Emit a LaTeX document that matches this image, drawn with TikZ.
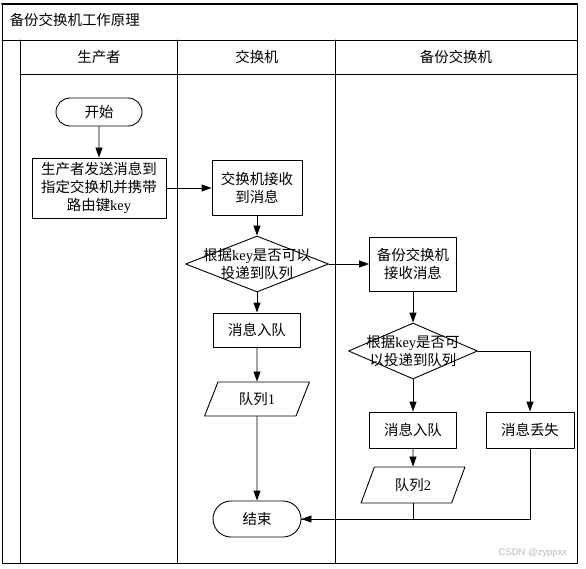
\documentclass[tikz,border=0pt]{standalone}
\usepackage{fontspec}
\setmainfont{Noto Sans CJK SC}
\newfontfamily\latfont{Liberation Serif}
\newfontfamily\wmfont{Liberation Sans}
\usetikzlibrary{shapes.geometric,shapes.misc,arrows.meta}

\begin{document}
\begin{tikzpicture}[line cap=round,line join=round,>={Triangle[length=10bp,width=7bp]},x=1bp,y=-1bp,line width=0.9bp,
  every node/.style={font=\fontsize{14.5}{18}\selectfont},
  proc/.style={draw,rectangle,align=center,inner sep=0pt},
  term/.style={draw,rounded rectangle,inner sep=0pt},
  decis/.style={draw,diamond,inner sep=0pt},
  queue/.style={draw,trapezium,trapezium left angle=65,trapezium right angle=115,trapezium stretches=true,inner sep=0pt},
  flow/.style={->}]
\useasboundingbox (0,0) rectangle (586,569);

%% frame and lanes
\draw (2,4) rectangle (577,563);
\draw [line width=2bp] (2,4) -- (577,4);
\draw (2,40) -- (577,40);
\draw (20,40) -- (20,563);
\draw (20,74) -- (577,74);
\draw (177,40) -- (177,563);
\draw (335,40) -- (335,563);
\node [anchor=west] (title) at (6,20) {备份交换机工作原理};
\node (hprod) at (99,57) {生产者};
\node (hexch) at (257,57) {交换机};
\node (hback) at (456,57) {备份交换机};

%% steps
\node [term,minimum width=86bp,minimum height=28bp] (start) at (99,112) {开始};
\node [proc,minimum width=134bp,minimum height=60bp] (send) at (99,188) {生产者发送消息到\\指定交换机并携带\\路由键{\latfont key}};
\node [proc,minimum width=90bp,minimum height=55bp] (recv) at (257,188) {交换机接收\\到消息};
\node [decis,minimum width=143bp,minimum height=56bp] (chk1) at (257,264) {};
\node [align=center] (chk1txt) at (chk1) {根据{\latfont key}是否可以\\投递到队列};
\node [proc,minimum width=87bp,minimum height=34bp] (enq1) at (257,330) {消息入队};
\node [queue,minimum width=105bp,minimum height=34bp] (que1) at (257,399) {队列{\latfont 1}};
\node [term,minimum width=88bp,minimum height=36bp] (stop) at (257,519) {结束};
\node [proc,minimum width=87bp,minimum height=54bp] (bakrecv) at (413,264) {备份交换机\\接收消息};
\node [decis,minimum width=129bp,minimum height=56bp] (chk2) at (413,351) {};
\node [align=center] (chk2txt) at (chk2) {根据{\latfont key}是否可\\以投递到队列};
\node [proc,minimum width=87bp,minimum height=36bp] (enq2) at (413,430) {消息入队};
\node [proc,minimum width=88bp,minimum height=36bp] (lost) at (530,430) {消息丢失};
\node [queue,minimum width=104bp,minimum height=36bp] (que2) at (413,485) {队列{\latfont 2}};
\node [anchor=east,text=gray!55,font=\wmfont\fontsize{9.5}{11}\selectfont] (mark) at (571,553) {CSDN @zyppxx};

%% flow
\draw [flow] (start) -- (send);
\draw [flow] (send) -- (recv);
\draw [flow] (recv) -- (chk1);
\draw [flow] (chk1) -- (bakrecv);
\draw [flow] (chk1) -- (enq1);
\draw [flow] (enq1) -- (que1);
\draw [flow] (que1) -- (stop);
\draw [flow] (bakrecv) -- (chk2);
\draw [flow] (chk2) -- (enq2);
\draw [flow] (chk2.east) -| (lost.north);
\draw [flow] (enq2) -- (que2);
\draw (que2.south) |- (stop.east);
\draw [flow] (lost.south) |- (stop.east);
\end{tikzpicture}
\end{document}
